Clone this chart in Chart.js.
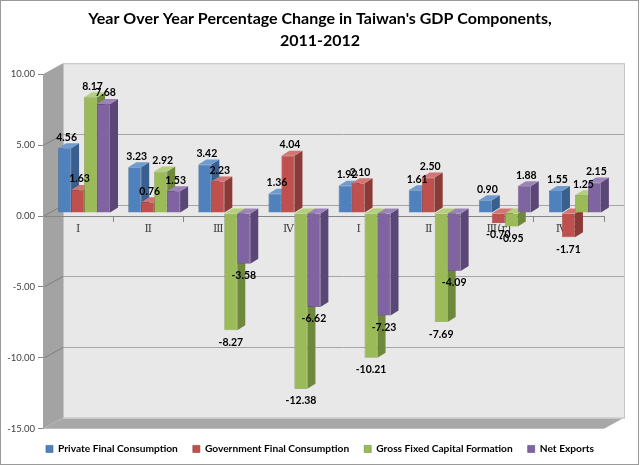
<!DOCTYPE html>
<html>
<head>
<meta charset="utf-8">
<script src="https://cdn.jsdelivr.net/npm/chart.js@4/dist/chart.umd.min.js"></script>
<style>
  body { margin: 0; background: #fff; }
  #wrap { width: 640px; height: 465px; position: relative; }
</style>
</head>
<body>
<div id="wrap"><canvas id="mycanvas"></canvas></div>
<script>
    // quarters 2011 I - 2012 IV (r = revised, p = preliminary)
    var quarters = ["\u2160", "\u2161", "\u2162", "\u2163", "\u2160", "\u2161", "\u2162(r)", "\u2163(p)"];
    var privateCons = [4.56, 3.23, 3.42, 1.36, 1.92, 1.61, 0.90, 1.55];
    var govCons = [1.63, 0.76, 2.23, 4.04, 2.10, 2.50, -0.70, -1.71];
    var capFormation = [8.17, 2.92, -8.27, -12.38, -10.21, -7.69, -0.95, 1.25];
    var netExports = [7.68, 1.53, -3.58, -6.62, -7.23, -4.09, 1.88, 2.15];
    var seriesNames = ['Private Final Consumption', 'Government Final Consumption', 'Gross Fixed Capital Formation', 'Net Exports'];

    // front / side / top colours for the fake 3d look
    var faces = [
        ['#4f81bd', '#395f8e', '#6f9bd1'],
        ['#c0504d', '#8c3a37', '#d37572'],
        ['#9bbb59', '#6e893c', '#b5d07c'],
        ['#8064a2', '#5b4678', '#9c84bb']
    ];

    var WALL_DX = 20, WALL_DY = -11;   // depth of the walls
    var BAR_DX = 8, BAR_DY = -5;       // depth of a bar
    var SHIFT_X = 6, SHIFT_Y = -3;     // bars sit a bit into the box

    var box3d = {
        id: 'box3d',
        beforeDraw: function (chart) {
            var ctx = chart.ctx, a = chart.chartArea, y = chart.scales.y;
            ctx.save();
            // back wall
            ctx.fillStyle = '#e8e8e8';
            ctx.fillRect(a.left + WALL_DX, a.top + WALL_DY, a.right - a.left, a.bottom - a.top);
            ctx.strokeStyle = '#c4c4c4';
            ctx.lineWidth = 1;
            ctx.strokeRect(a.left + WALL_DX + 0.5, a.top + WALL_DY + 0.5, a.right - a.left, a.bottom - a.top);
            // left side wall
            ctx.fillStyle = '#a3a3a3';
            ctx.beginPath();
            ctx.moveTo(a.left, a.top);
            ctx.lineTo(a.left + WALL_DX, a.top + WALL_DY);
            ctx.lineTo(a.left + WALL_DX, a.bottom + WALL_DY);
            ctx.lineTo(a.left, a.bottom);
            ctx.closePath();
            ctx.fill();
            // floor
            ctx.fillStyle = '#a8a8a8';
            ctx.beginPath();
            ctx.moveTo(a.left, a.bottom);
            ctx.lineTo(a.left + WALL_DX, a.bottom + WALL_DY);
            ctx.lineTo(a.right + WALL_DX, a.bottom + WALL_DY);
            ctx.lineTo(a.right, a.bottom);
            ctx.closePath();
            ctx.fill();
            ctx.strokeStyle = '#d0d0d0';
            ctx.beginPath();
            ctx.moveTo(a.left + WALL_DX, a.bottom + WALL_DY + 0.5);
            ctx.lineTo(a.right + WALL_DX, a.bottom + WALL_DY + 0.5);
            ctx.stroke();
            // gridlines
            y.ticks.forEach(function (t) {
                var py = Math.round(y.getPixelForValue(t.value)) + 0.5;
                if (t.value <= y.min || t.value >= y.max) return;
                ctx.strokeStyle = '#7f7f7f';
                ctx.beginPath();
                ctx.moveTo(a.left, py);
                ctx.lineTo(a.left + WALL_DX, py + WALL_DY);
                ctx.stroke();
                ctx.strokeStyle = '#a6a6a6';
                ctx.beginPath();
                ctx.moveTo(a.left + WALL_DX, py + WALL_DY);
                ctx.lineTo(a.right + WALL_DX, py + WALL_DY);
                ctx.stroke();
            });
            ctx.restore();
        },
        beforeDatasetsDraw: function (chart) {
            var ctx = chart.ctx;
            ctx.save();
            ctx.translate(SHIFT_X, SHIFT_Y);
            chart.data.datasets.forEach(function (ds, i) {
                chart.getDatasetMeta(i).data.forEach(function (bar) {
                    var l = bar.x - bar.width / 2, r = bar.x + bar.width / 2;
                    var top = Math.min(bar.y, bar.base), bot = Math.max(bar.y, bar.base);
                    ctx.fillStyle = faces[i][1];
                    ctx.beginPath();
                    ctx.moveTo(r, top);
                    ctx.lineTo(r + BAR_DX, top + BAR_DY);
                    ctx.lineTo(r + BAR_DX, bot + BAR_DY);
                    ctx.lineTo(r, bot);
                    ctx.closePath();
                    ctx.fill();
                    ctx.fillStyle = faces[i][2];
                    ctx.beginPath();
                    ctx.moveTo(l, top);
                    ctx.lineTo(l + BAR_DX, top + BAR_DY);
                    ctx.lineTo(r + BAR_DX, top + BAR_DY);
                    ctx.lineTo(r, top);
                    ctx.closePath();
                    ctx.fill();
                });
            });
        },
        afterDatasetsDraw: function (chart) {
            var ctx = chart.ctx;
            ctx.font = 'bold 10.5px Lato';
            ctx.fillStyle = '#000';
            ctx.textAlign = 'center';
            ctx.textBaseline = 'middle';
            chart.data.datasets.forEach(function (ds, i) {
                chart.getDatasetMeta(i).data.forEach(function (bar, j) {
                    var v = ds.data[j];
                    if (v >= 0) ctx.fillText(v.toFixed(2), bar.x + 2, bar.y + BAR_DY - 6);
                    else ctx.fillText(v.toFixed(2), bar.x, bar.y + 12);
                });
            });
            ctx.restore();
        },
        afterDraw: function (chart) {
            var ctx = chart.ctx;
            ctx.save();
            ctx.strokeStyle = '#9a9a9a';
            ctx.lineWidth = 1;
            ctx.strokeRect(0.5, 0.5, 638, 464);
            ctx.restore();
        }
    };

    var ds = [privateCons, govCons, capFormation, netExports].map(function (vals, i) {
        return {
            label: seriesNames[i],
            data: vals,
            backgroundColor: faces[i][0],
            borderColor: faces[i][1],
            borderWidth: 0.6
        };
    });

    var ctx = document.getElementById('mycanvas');
    var barGraph = new Chart(ctx, {
        type: 'bar',
        data: { labels: quarters, datasets: ds },
        options: {
            responsive: true,
            maintainAspectRatio: false,
            animation: false,
            categoryPercentage: 0.74,
            barPercentage: 1,
            layout: { padding: { left: 0, right: 0, top: 0, bottom: 1 } },
            plugins: {
                tooltip: { enabled: false },
                title: {
                    display: true,
                    text: ["Year Over Year Percentage Change in Taiwan's GDP Components,", '2011-2012'],
                    color: '#000',
                    font: { family: 'Lato', size: 16, weight: 'bold', lineHeight: 1.35 },
                    padding: { top: 8, bottom: 23 }
                },
                legend: {
                    position: 'bottom',
                    labels: {
                        color: '#000',
                        font: { family: 'Lato', size: 10.2, weight: 'bold' },
                        boxWidth: 7,
                        boxHeight: 7,
                        padding: 15
                    }
                }
            },
            scales: {
                x: {
                    position: { y: 0 },
                    grid: { drawOnChartArea: false, tickLength: 5, color: '#868686', offset: true },
                    border: { color: '#868686' },
                    ticks: {
                        color: '#404040',
                        padding: 2,
                        font: { family: "'DejaVu Serif', 'Noto Sans CJK TC'", size: 11 }
                    }
                },
                y: {
                    min: -15,
                    max: 10,
                    afterFit: function (s) { s.width = 43; },
                    grid: { drawOnChartArea: false, tickLength: 5, color: '#868686' },
                    border: { color: '#a3a3a3' },
                    ticks: {
                        stepSize: 5,
                        padding: 3,
                        color: '#404040',
                        font: { family: 'Lato', size: 9.5 },
                        callback: function (v) { return v.toFixed(2); }
                    }
                },
                // empty axis on the right, keeps room for the walls' depth
                yRight: {
                    position: 'right',
                    afterFit: function (s) { s.width = 36; },
                    grid: { display: false },
                    border: { display: false },
                    ticks: { display: false }
                }
            }
        },
        plugins: [box3d]
    });
</script>
</body>
</html>
